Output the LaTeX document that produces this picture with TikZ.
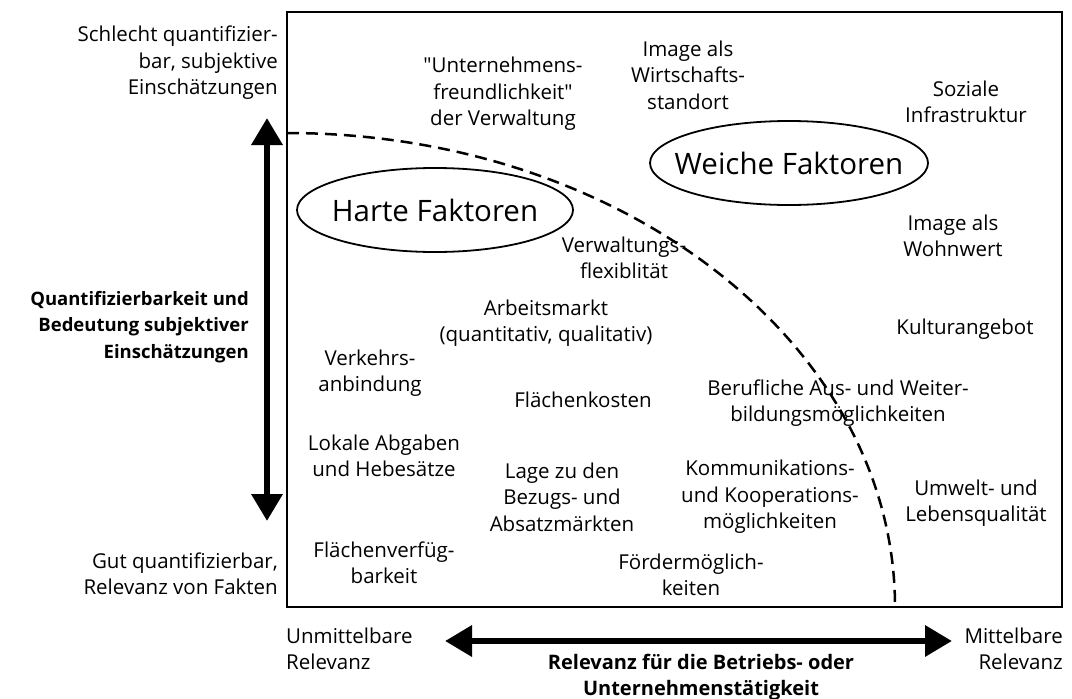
\documentclass[tikz,border=0pt]{standalone}
\usepackage{fontspec}
\setmainfont{Open Sans}
\usetikzlibrary{arrows.meta}

\newcommand{\txtfont}{\fontsize{20.5}{26.5}\selectfont}
\newcommand{\boldfont}{\fontsize{18.5}{26.5}\selectfont\bfseries}
\newcommand{\botfont}{\fontsize{20}{26.5}\selectfont\bfseries}
\newcommand{\bigfont}{\fontsize{29.5}{32}\selectfont}

\tikzset{
  factor/.style = {align=center, inner sep=0pt, font=\txtfont},
  axislabel/.style = {inner sep=0pt, font=\txtfont},
  axistitle/.style = {inner sep=0pt, font=\boldfont},
  group/.style = {inner sep=0pt, font=\bigfont},
  groupring/.style = {line width=1.8pt},
  bigarrow/.style = {line width=6.5pt,
                  {Triangle[length=27pt,width=30pt]}-{Triangle[length=27pt,width=30pt]}}
}

\begin{document}
\begin{tikzpicture}[x=1pt, y=-1pt]
	\useasboundingbox (0,0) rectangle (1072,699);
	% frame and border line
	\draw [line width=2pt] (287,12) rectangle (1062,607);
	\draw [line width=2.5pt, dash pattern=on 12pt off 7pt]
		(287,133) arc [start angle=90, end angle=0, x radius=608pt, y radius=474pt];
	% groups
	\node [group] (harte) at (435,210) {Harte Faktoren};
	\node [group] (weiche) at (789,163) {Weiche Faktoren};
	\draw [groupring] (harte.center) ellipse [x radius=138pt, y radius=42pt];
	\draw [groupring] (weiche.center) ellipse [x radius=139pt, y radius=42pt];
	% factors
	\node [factor] (freund) at (503,94) {\textquotedbl Unternehmens-\\freundlichkeit\textquotedbl\\der Verwaltung};
	\node [factor] (imagew) at (688,75) {Image als\\Wirtschafts-\\standort};
	\node [factor] (sozial) at (966,102) {Soziale\\Infrastruktur};
	\node [factor] (wohn) at (953,236) {Image als\\Wohnwert};
	\node [factor] (flex) at (624,258) {Verwaltungs-\\flexiblität};
	\node [factor] (arbeit) at (546,323) {Arbeitsmarkt\\(quantitativ, qualitativ)};
	\node [factor] (kultur) at (965,329) {Kulturangebot};
	\node [factor] (verkehr) at (370,373) {Verkehrs-\\anbindung};
	\node [factor] (kosten) at (583,400) {Flächenkosten};
	\node [factor] (beruf) at (838,403) {Berufliche Aus- und Weiter-\\bildungsmöglichkeiten};
	\node [factor] (abgaben) at (384,456) {Lokale Abgaben\\und Hebesätze};
	\node [factor] (lage) at (562,497) {Lage zu den\\Bezugs- und\\Absatzmärkten};
	\node [factor] (komm) at (770,497) {Kommunikations-\\und Kooperations-\\möglichkeiten};
	\node [factor] (umwelt) at (976,503) {Umwelt- und\\Lebensqualität};
	\node [factor] (flaeche) at (384,563) {Flächenverfüg-\\barkeit};
	\node [factor] (foerder) at (691,575) {Fördermöglich-\\keiten};
	% vertical axis
	\node [axislabel, align=right, anchor=east] (schlecht) at (278,63) {Schlecht quantifizier-\\bar, subjektive\\Einschätzungen};
	\node [axistitle, align=right, anchor=east] (quant) at (249,327) {Quantifizierbarkeit und\\Bedeutung subjektiver\\Einschätzungen};
	\node [axislabel, align=right, anchor=east] (gut) at (278,574) {Gut quantifizierbar,\\Relevanz von Fakten};
	\coordinate (vtop) at (267,118);
	\coordinate (vbot) at (267,521);
	\draw [bigarrow] (vtop) -- (vbot);
	% horizontal axis
	\node [axislabel, align=left, anchor=west] (unmittel) at (286,649) {Unmittelbare\\Relevanz};
	\node [axislabel, align=right, anchor=east] (mittel) at (1063,649) {Mittelbare\\Relevanz};
	\node [axistitle, font=\botfont, align=center] (relevanz) at (701,677) {Relevanz für die Betriebs- oder\\Unternehmenstätigkeit};
	\coordinate (hleft) at (445,641);
	\coordinate (hright) at (952,641);
	\draw [bigarrow] (hleft) -- (hright);
\end{tikzpicture}
\end{document}
